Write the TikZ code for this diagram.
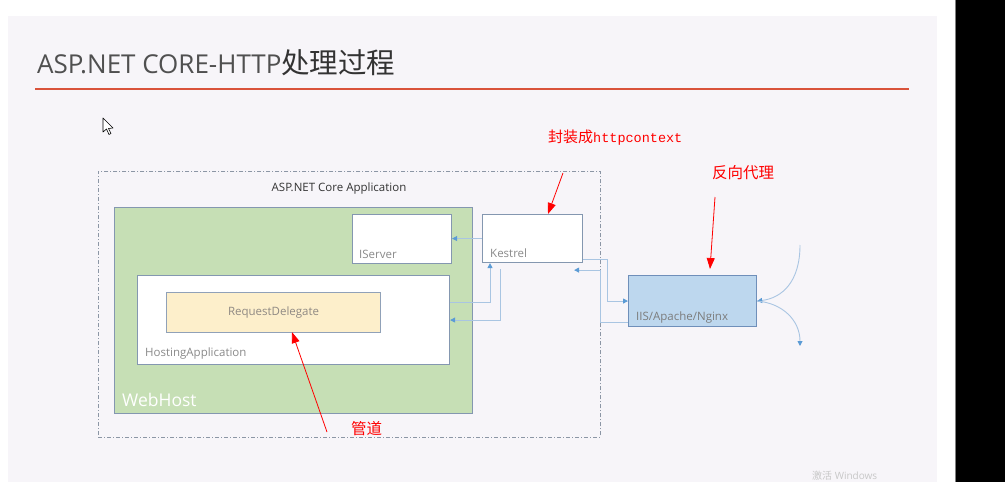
\documentclass[tikz,border=0pt]{standalone}
\usepackage{fontspec}
\setmainfont{Open Sans}
\newfontfamily\cjk{Noto Sans CJK SC}
\newfontfamily\monofont{Liberation Mono}
\usetikzlibrary{arrows.meta,calc}
\definecolor{slidebg}{HTML}{F7F5F9}
\definecolor{titlegray}{HTML}{505050}
\definecolor{titlered}{HTML}{D9533B}
\definecolor{boxborder}{HTML}{8497B0}
\definecolor{webgreen}{HTML}{C6DFB5}
\definecolor{reqyellow}{HTML}{FDEFCB}
\definecolor{iisblue}{HTML}{BDD7EE}
\definecolor{iisborder}{HTML}{6F8FBA}
\definecolor{lblgray}{HTML}{8A8A8A}
\definecolor{conline}{HTML}{A9C5E2}
\definecolor{contip}{HTML}{5B9BD5}
\definecolor{dashgray}{HTML}{8C96A5}
\begin{document}
\begin{tikzpicture}[x=1pt,y=-1pt,
  box/.style={draw=boxborder, line width=1.1pt, fill=white, anchor=north west, inner sep=0pt},
  lbl/.style={text=lblgray, font=\fontsize{11.5}{13}\selectfont, inner sep=0pt, anchor=base west},
  conn/.style={draw=conline, line width=0.9pt, -{Triangle[length=5pt,width=5pt,fill=contip,color=contip]}},
  redarrow/.style={draw=red, line width=0.8pt, -{Triangle[length=11pt,width=8pt]}},
  redtext/.style={text=red, inner sep=0pt, anchor=base west}
]
\useasboundingbox (0,0) rectangle (1005,482);
\clip (0,0) rectangle (1005,482);
% background
\fill[white] (0,0) rectangle (1005,482);
\fill[slidebg] (8,16) rectangle (937,482);
\fill[black] (955,0) rectangle (1005,482);
\draw[gray, line width=1pt] (955.5,0) -- (955.5,482);
% title
\node (title) [inner sep=0pt, anchor=base west, text=titlegray] at (37,73)
  {\fontsize{26}{28}\selectfont ASP.NET CORE-HTTP{\cjk\fontsize{28.5}{30}\selectfont\color{black!80}处理过程}};
\draw[titlered, line width=2pt] (35,89) -- (909,89);
% cursor
\draw[black, fill=white, line width=0.6pt, line join=round]
  (103,118) -- (103,132) -- (106.5,129) -- (109,134.5) -- (111,133.5) -- (108.5,128.5) -- (113,128) -- cycle;
% outer application frame
\node (app) [draw=dashgray, line width=0.8pt, dash pattern=on 4pt off 2pt on 1pt off 2pt, anchor=north west,
  minimum width=502pt, minimum height=266pt, inner sep=0pt] at (98,171) {};
\node (apptitle) [inner sep=0pt, text=black!80, font=\fontsize{11.5}{13}\selectfont] at (339,189) {ASP.NET Core Application};
% WebHost
\node (webhost) [box, fill=webgreen, minimum width=358pt, minimum height=206pt] at (114,207) {};
\node (webhostlbl) [lbl, text=white, font=\fontsize{17.5}{19}\selectfont] at ($(webhost.south west)+(8,-8)$) {WebHost};
% IServer
\node (iserver) [box, minimum width=99pt, minimum height=49pt] at (352,214) {};
\node (iserverlbl) [lbl] at ($(iserver.south west)+(7,-6)$) {IServer};
% HostingApplication
\node (hosting) [box, minimum width=312pt, minimum height=89pt] at (137,275) {};
\node (hostinglbl) [lbl] at ($(hosting.south west)+(8,-9)$) {HostingApplication};
% RequestDelegate
\node (reqdel) [box, fill=reqyellow, draw=boxborder!90, minimum width=214pt, minimum height=40pt] at (166,292) {};
\node (reqdellbl) [inner sep=0pt, text=lblgray!90!brown, font=\fontsize{11.5}{13}\selectfont] at (reqdel.center) {RequestDelegate};
% Kestrel
\node (kestrel) [box, minimum width=100pt, minimum height=48pt] at (482,214) {};
\node (kestrellbl) [lbl] at ($(kestrel.south west)+(8,-6)$) {Kestrel};
% IIS
\node (iis) [box, fill=iisblue, draw=iisborder, minimum width=128pt, minimum height=51pt] at (628,275) {};
\node (iislbl) [lbl, text=lblgray!90!black] at ($(iis.south west)+(8,-7)$) {IIS/Apache/Nginx};
% blue connectors
\draw[conn] (kestrel.west) -- (kestrel.west -| iserver.east);
\draw[conn] ($(hosting.north east)+(0,27)$) -| ($(kestrel.south west)+(8,0)$);
\draw[conn] ($(kestrel.south west)+(18,6)$) |- (hosting.east);
\coordinate (kcorner) at ($(kestrel.south east)+(24,-4)$);
\draw[conn] ($(kestrel.south east)+(0,-4)$) -- (kcorner) |- (iis.west);
\coordinate (iiscorner) at ($(iis.south west)+(-28,-5)$);
\coordinate (kret) at ($(kestrel.south east)+(-9,7)$);
\draw[conn] ($(iis.south west)+(0,-5)$) -- (iiscorner) |- (kret);
\coordinate (inTop) at (800,245);
\coordinate (outBot) at (800,346);
\draw[conn] (inTop) .. controls (800,282) and (782,298) .. (iis.east);
\draw[conn] (iis.east) .. controls (782,303) and (800,320) .. (outBot);
% red annotations
\node (wrap) [redtext] at (548,142) {\fontsize{15}{17}\selectfont\cjk 封装成{\monofont\fontsize{13.5}{15}\selectfont httpcontext}};
\node (proxy) [redtext] at (712,178) {\fontsize{15.5}{17}\selectfont\cjk 反向代理};
\node (pipe) [redtext] at (351,434) {\fontsize{15.5}{17}\selectfont\cjk 管道};
\coordinate (wrapstart) at (563,173);
\coordinate (proxystart) at (715,197);
\coordinate (pipestart) at (327,432);
\draw[redarrow] (wrapstart) -- ($(kestrel.north west)+(66,0)$);
\draw[redarrow] (proxystart) -- ($(iis.north west)+(82,-6)$);
\draw[redarrow] (pipestart) -- ($(reqdel.south west)+(126,-1)$);
% watermark
\node (wm) [inner sep=0pt, anchor=base west, text=black!22, font=\fontsize{10}{12}\selectfont] at (812,479.5) {{\cjk 激活} Windows};
\end{tikzpicture}
\end{document}
